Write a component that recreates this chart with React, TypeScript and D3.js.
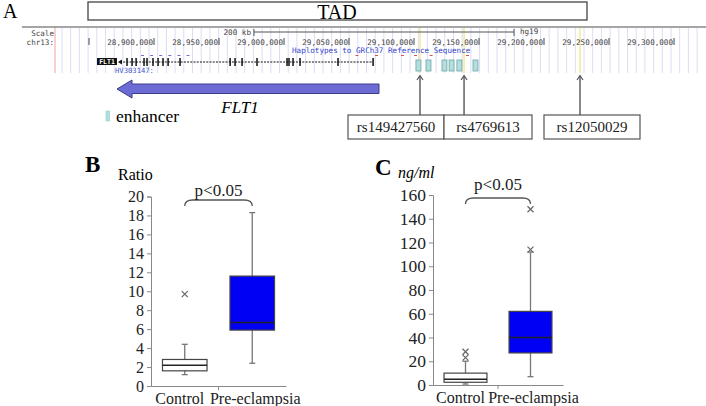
import { useEffect, useRef } from "react";
import * as d3 from "d3";

// genome browser (panel A)
const positionTicks = [
  28850000, 28900000, 28950000, 29000000, 29050000, 29100000, 29150000, 29200000, 29250000, 29300000,
];
const geneStart = 28873800;
const geneEnd = 29068500;
const exonPositions = [
  28879200, 28883100, 28886200, 28892300, 28894600, 28899200, 28903100, 28906900, 28910800, 28920000,
  28958500, 28962300, 28967700, 28979200, 29002300, 29003800, 29006900, 29012300, 29041500, 29068500,
];
const enhancerPositions = [29101500, 29109200, 29121500, 29127000, 29133000, 29145400];
const snpNames = ["rs149427560", "rs4769613", "rs12050029"];
const snpPositions = [29104600, 29138500, 29227700];
const scaleBarEnd = 29176900;
const scaleBarLength = 200000;
const haplotypeMarks = [29055000, 29070000, 29090000, 29100000, 29112000, 29140000];
const hvMarks = [28890000, 28897000, 28904000, 28911000, 28918000, 28925000];

// box plots (panels B, C)
const groups = ["Control", "Pre-eclampsia"];
const ratioMin = [1.2, 2.4];
const ratioQ1 = [1.6, 5.9];
const ratioMedian = [2.2, 6.7];
const ratioQ3 = [2.8, 11.6];
const ratioMax = [4.4, 18.3];
const ratioOutliers = [[9.7], []];
const ratioTicks = [0, 2, 4, 6, 8, 10, 12, 14, 16, 18, 20];

const flt1Min = [0.8, 7];
const flt1Q1 = [2.3, 27];
const flt1Median = [4.8, 40];
const flt1Q3 = [10, 62];
const flt1Max = [20, 112];
const flt1Outliers = [[23, 28], [114, 148]];
const flt1Ticks = [0, 20, 40, 60, 80, 100, 120, 140, 160];

const serif = "Liberation Serif";
const mono = "DejaVu Sans Mono";

export default function App() {
  const ref = useRef<SVGSVGElement | null>(null);

  useEffect(() => {
    if (!ref.current) return;
    const svg = d3.select(ref.current);
    svg.selectAll("*").remove();

    // ---------- panel A ----------
    const gx = d3.scaleLinear().domain([28850000, 29300000]).range([89, 674]);
    const a = svg.append("g");

    a.append("text").attr("x", 3).attr("y", 18).style("font-family", serif).attr("font-size", 20).text("A");

    a.append("rect").attr("x", 88).attr("y", 2).attr("width", 499).attr("height", 18)
      .attr("fill", "#fff").attr("stroke", "#444").attr("stroke-width", 1.3);
    a.append("text").attr("x", 337).attr("y", 19).attr("text-anchor", "middle")
      .style("font-family", serif).attr("font-size", 20).text("TAD");

    // browser grid
    const gridX = d3.range(62, 704, 8.7);
    a.selectAll("line.grid").data(gridX).enter().append("line")
      .attr("x1", (d) => d).attr("x2", (d) => d).attr("y1", 28).attr("y2", 73)
      .attr("stroke", "#dcdcf6").attr("stroke-width", 1);
    a.append("line").attr("x1", 55).attr("x2", 55).attr("y1", 27).attr("y2", 73)
      .attr("stroke", "#f4a0a0").attr("stroke-width", 1);
    a.selectAll("line.hl").data(snpPositions).enter().append("line")
      .attr("x1", (d) => gx(d)).attr("x2", (d) => gx(d)).attr("y1", 28).attr("y2", 73)
      .attr("stroke", "#f3ee9a").attr("stroke-width", 1.6);
    a.append("line").attr("x1", 22).attr("x2", 706).attr("y1", 27).attr("y2", 27)
      .attr("stroke", "#888").attr("stroke-width", 1.5);

    const small = (x: number, y: number, t: string, anchor = "start", fill = "#444", size = 7.6) =>
      a.append("text").attr("x", x).attr("y", y).attr("text-anchor", anchor)
        .style("font-family", mono).attr("font-size", size).attr("fill", fill).text(t);

    small(54, 36, "Scale", "end");
    small(54, 45, "chr13:", "end");

    // scale bar
    const sb0 = gx(scaleBarEnd - scaleBarLength);
    const sb1 = gx(scaleBarEnd);
    a.append("line").attr("x1", sb0).attr("x2", sb1).attr("y1", 32).attr("y2", 32).attr("stroke", "#555");
    [sb0, sb1].forEach((x) =>
      a.append("line").attr("x1", x).attr("x2", x).attr("y1", 29).attr("y2", 36).attr("stroke", "#555"));
    small(sb0 - 3, 35, "200 kb", "end");
    small(sb1 + 6, 34, "hg19");

    // position axis
    positionTicks.forEach((t, i) => {
      const x = gx(t);
      a.append("line").attr("x1", x).attr("x2", x).attr("y1", 38).attr("y2", 45).attr("stroke", "#444");
      if (i > 0) small(x - 1, 44.5, d3.format(",")(t), "end");
    });

    small(292, 53, "Haplotypes to GRCh37 Reference Sequence", "start", "#3344cc");
    haplotypeMarks.forEach((p) =>
      a.append("rect").attr("x", gx(p)).attr("y", 55).attr("width", 3).attr("height", 1).attr("fill", "#e05050"));
    hvMarks.forEach((p) =>
      a.append("rect").attr("x", gx(p)).attr("y", 55).attr("width", 3).attr("height", 1).attr("fill", "#7070d0"));

    // FLT1 gene track
    a.append("rect").attr("x", 97).attr("y", 58).attr("width", 20).attr("height", 7).attr("fill", "#111");
    a.append("text").attr("x", 107).attr("y", 64).attr("text-anchor", "middle").style("font-family", mono)
      .attr("font-size", 6.5).attr("font-weight", "bold").attr("fill", "#fff").text("FLT1");
    a.append("line").attr("x1", gx(geneStart)).attr("x2", gx(geneEnd)).attr("y1", 62).attr("y2", 62)
      .attr("stroke", "#111").attr("stroke-width", 1).attr("stroke-dasharray", "2,1.2");
    a.append("path").attr("d", `M${gx(geneStart) - 2},62 l4,-2.5 l0,5 z`).attr("fill", "#111");
    a.selectAll("rect.exon").data(exonPositions).enter().append("rect")
      .attr("x", (d) => gx(d) - 0.7).attr("y", 58).attr("width", 1.5).attr("height", 8).attr("fill", "#111");
    small(115, 73, "HV303147:", "start", "#4455cc", 7.2);

    // enhancers
    a.selectAll("rect.enh").data(enhancerPositions).enter().append("rect")
      .attr("x", (d) => gx(d)).attr("y", 60).attr("width", 5).attr("height", 11)
      .attr("fill", "#b4dede").attr("stroke", "#6aa5a5").attr("stroke-width", 0.8);

    // SNP arrows and labels
    const boxLeft = [348, 444, 544];
    const boxRight = [444, 532, 640];
    snpPositions.forEach((p, i) => {
      const x = gx(p);
      a.append("line").attr("x1", x).attr("x2", x).attr("y1", 76).attr("y2", 115)
        .attr("stroke", "#555").attr("stroke-width", 1.4);
      a.append("path").attr("d", `M${x - 3},80 L${x},75.5 L${x + 3},80`).attr("fill", "none")
        .attr("stroke", "#555").attr("stroke-width", 1.2);
      a.append("rect").attr("x", boxLeft[i]).attr("y", 115).attr("width", boxRight[i] - boxLeft[i])
        .attr("height", 24).attr("fill", "#fff").attr("stroke", "#555").attr("stroke-width", 1.2);
      a.append("text").attr("x", (boxLeft[i] + boxRight[i]) / 2).attr("y", 132).attr("text-anchor", "middle")
        .style("font-family", serif).attr("font-size", 15).attr("fill", "#222").text(snpNames[i]);
    });

    // FLT1 direction arrow
    const ax0 = 117, ax1 = 379;
    a.append("path")
      .attr("d", `M${ax0},89 L${ax0 + 15},80 L${ax0 + 15},84 L${ax1},84 L${ax1},93.5 L${ax0 + 15},93.5 L${ax0 + 15},98 Z`)
      .attr("fill", "#6c6cd4").attr("stroke", "#3c3c8c").attr("stroke-width", 1);
    a.append("text").attr("x", 240).attr("y", 113).attr("text-anchor", "middle").style("font-family", serif)
      .attr("font-style", "italic").attr("font-size", 17).text("FLT1");
    a.append("rect").attr("x", 106).attr("y", 111).attr("width", 3.5).attr("height", 10)
      .attr("fill", "#b4dede").attr("stroke", "#8cc").attr("stroke-width", 0.6);
    a.append("text").attr("x", 116).attr("y", 122).style("font-family", serif).attr("font-size", 17.5)
      .text("enhancer");

    // ---------- box plot panels ----------
    type Panel = {
      letter: string; lx: number; ly: number;
      unit: string; ux: number; uy: number; italic: boolean;
      axisX: number; axisW: number; y0: number; y1: number; domainMax: number; ticks: number[];
      tickSize: number;
      mins: number[]; q1s: number[]; meds: number[]; q3s: number[]; maxs: number[]; outs: number[][];
      braceY: number; textY: number;
    };

    const labelShift = [-5, 3];

    const drawPanel = (p: Panel) => {
      const g = svg.append("g");
      g.append("text").attr("x", p.lx).attr("y", p.ly).style("font-family", serif).attr("font-size", 23)
        .attr("font-weight", "bold").text(p.letter);
      g.append("text").attr("x", p.ux).attr("y", p.uy).style("font-family", serif).attr("font-size", 16)
        .attr("font-style", p.italic ? "italic" : "normal").text(p.unit);

      const y = d3.scaleLinear().domain([0, p.domainMax]).range([p.y0, p.y1]);
      const x = d3.scaleBand<string>().domain(groups).range([p.axisX, p.axisX + p.axisW]);
      const bw = x.bandwidth() * 0.66;

      const yAxis = g.append("g").attr("transform", `translate(${p.axisX},0)`)
        .call(d3.axisLeft(y).tickValues(p.ticks).tickSize(4).tickPadding(3).tickFormat(d3.format("d")));
      yAxis.select(".domain").attr("stroke", "#888");
      yAxis.selectAll(".tick line").attr("stroke", "#888");
      yAxis.selectAll(".tick text").style("font-family", serif).attr("font-size", p.tickSize).attr("fill", "#222");

      const xAxis = g.append("g").attr("transform", `translate(0,${p.y0})`)
        .call(d3.axisBottom(x).tickSize(0).tickPadding(7));
      xAxis.select(".domain").attr("stroke", "#888");
      xAxis.selectAll<SVGTextElement, string>(".tick text").style("font-family", serif).attr("font-size", 16)
        .attr("fill", "#222").attr("dx", (_d, i) => labelShift[i]);
      const mid = p.axisX + x.step();
      g.append("line").attr("x1", mid).attr("x2", mid).attr("y1", p.y0).attr("y2", p.y0 + 4).attr("stroke", "#888");

      groups.forEach((grp, i) => {
        const cx = (x(grp) as number) + x.bandwidth() / 2;
        const fill = i === 0 ? "#fff" : "#0000f5";
        g.append("line").attr("x1", cx).attr("x2", cx).attr("y1", y(p.mins[i])).attr("y2", y(p.maxs[i]))
          .attr("stroke", "#777").attr("stroke-width", 1.3);
        [p.mins[i], p.maxs[i]].forEach((v) =>
          g.append("line").attr("x1", cx - 3).attr("x2", cx + 3).attr("y1", y(v)).attr("y2", y(v))
            .attr("stroke", "#777").attr("stroke-width", 1.3));
        g.append("rect").attr("x", cx - bw / 2).attr("y", y(p.q3s[i])).attr("width", bw)
          .attr("height", y(p.q1s[i]) - y(p.q3s[i])).attr("fill", fill).attr("stroke", "#444").attr("stroke-width", 1.2);
        g.append("line").attr("x1", cx - bw / 2).attr("x2", cx + bw / 2).attr("y1", y(p.meds[i])).attr("y2", y(p.meds[i]))
          .attr("stroke", "#222").attr("stroke-width", 1.5);
        p.outs[i].forEach((v) => {
          const oy = y(v);
          g.append("path").attr("d", `M${cx - 3},${oy - 3}L${cx + 3},${oy + 3}M${cx - 3},${oy + 3}L${cx + 3},${oy - 3}`)
            .attr("stroke", "#666").attr("stroke-width", 1.2);
        });
      });

      // significance brace
      const bx0 = (x(groups[0]) as number) + x.bandwidth() / 2;
      const bx1 = (x(groups[1]) as number) + x.bandwidth() / 2;
      const by = p.braceY;
      g.append("path")
        .attr("d", `M${bx0},${by + 6} Q${bx0},${by} ${bx0 + 8},${by} L${bx1 - 8},${by} Q${bx1},${by} ${bx1},${by + 6}`)
        .attr("fill", "none").attr("stroke", "#555").attr("stroke-width", 1.3);
      g.append("text").attr("x", (bx0 + bx1) / 2).attr("y", p.textY).attr("text-anchor", "middle")
        .style("font-family", serif).attr("font-size", 17).attr("fill", "#222").text("p<0.05");
    };

    drawPanel({
      letter: "B", lx: 85, ly: 172, unit: "Ratio", ux: 118, uy: 180, italic: false,
      axisX: 151, axisW: 135, y0: 386, y1: 196.5, domainMax: 20, ticks: ratioTicks, tickSize: 16,
      mins: ratioMin, q1s: ratioQ1, meds: ratioMedian, q3s: ratioQ3, maxs: ratioMax, outs: ratioOutliers,
      braceY: 200, textY: 196,
    });
    drawPanel({
      letter: "C", lx: 375, ly: 175, unit: "ng/ml", ux: 398, uy: 178, italic: true,
      axisX: 433, axisW: 130, y0: 385, y1: 195, domainMax: 160, ticks: flt1Ticks, tickSize: 17.5,
      mins: flt1Min, q1s: flt1Q1, meds: flt1Median, q3s: flt1Q3, maxs: flt1Max, outs: flt1Outliers,
      braceY: 198, textY: 190,
    });
  }, []);

  return (
    <div style={{ position: "fixed", left: 0, top: 0 }}>
      <svg ref={ref} width={706} height={406} style={{ display: "block", background: "#fff" }} />
    </div>
  );
}
